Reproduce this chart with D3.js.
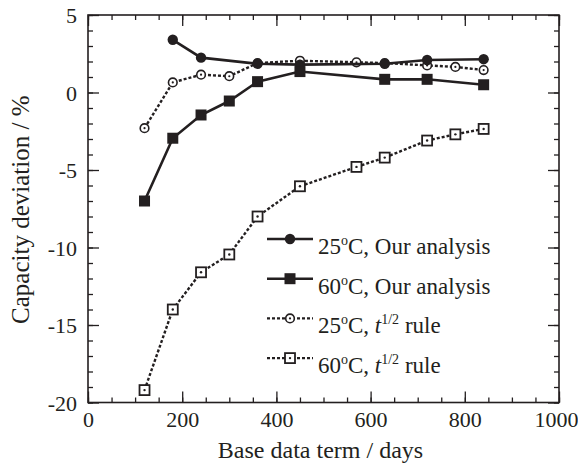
<!DOCTYPE html>
<html><head><meta charset="utf-8">
<script src="https://cdn.jsdelivr.net/npm/d3@7"></script>
<style>
body{margin:0;background:#fff}
text{font-family:"Liberation Serif","Times New Roman",serif;fill:#231f20}
</style>
</head><body>
<svg id="c" width="578" height="466"></svg>
<script>
// ---- data ----
const daysOur25 = [180, 240, 360, 450, 630, 720, 840];
const our25     = [3.4, 2.25, 1.85, 1.8, 1.85, 2.1, 2.15];
const daysOur60 = [120, 180, 240, 300, 360, 450, 630, 720, 840];
const our60     = [-7.0, -2.95, -1.45, -0.55, 0.7, 1.35, 0.85, 0.85, 0.5];
const daysRule  = [120, 180, 240, 300, 360, 450, 570, 630, 720, 780, 840];
const rule25    = [-2.3, 0.65, 1.15, 1.05, 1.9, 2.05, 1.95, 1.9, 1.75, 1.65, 1.45];
const rule60    = [-19.2, -14.0, -11.6, -10.45, -8.0, -6.05, -4.8, -4.2, -3.1, -2.7, -2.35];
const xTickLabels = [0, 200, 400, 600, 800, 1000];
const yTickLabels = [5, 0, -5, -10, -15, -20];

// ---- layout ----
const L = 88, R = 559, T = 15, B = 402.5;
const svg = d3.select("#c");
const x = d3.scaleLinear().domain([0, 1000]).range([L, R]);
const y = d3.scaleLinear().domain([-20, 5]).range([B, T]);
const ink = "#231f20";
const FF = '"Liberation Serif","Times New Roman",serif';

svg.append("rect").attr("width", 578).attr("height", 466).attr("fill", "#fff");

// axes with inward ticks
const major = 11, minor = 5;
function axisSet(axisFn, scale, majorVals, minorVals, transform, showLabels) {
  const gMin = svg.append("g").attr("transform", transform)
    .call(axisFn(scale).tickValues(minorVals).tickSize(-minor).tickFormat(""));
  const gMaj = svg.append("g").attr("transform", transform)
    .call(axisFn(scale).tickValues(majorVals).tickSize(-major)
      .tickFormat(showLabels ? (d => String(d)) : ""));
  [gMin, gMaj].forEach(g => {
    g.attr("font-family", FF);
    g.select(".domain").remove();
    g.selectAll(".tick line").attr("stroke", ink).attr("stroke-width", 1.3);
  });
  return gMaj;
}
const xMinor = d3.range(0, 1001, 50);
const yMinor = d3.range(-20, 5.01, 1);
const gx = axisSet(d3.axisBottom, x, xTickLabels, xMinor, `translate(0,${B})`, true);
gx.selectAll(".tick text").attr("font-size", 22).attr("fill", ink)
  .attr("y", 24.5).attr("dy", 0)
  .attr("text-anchor", d => d === 1000 ? "end" : "middle")
  .attr("dx", d => d === 1000 ? 19 : 0);
axisSet(d3.axisTop, x, xTickLabels, xMinor, `translate(0,${T})`, false);
const gy = axisSet(d3.axisLeft, y, yTickLabels, yMinor, `translate(${L},0)`, true);
gy.selectAll(".tick text").attr("font-size", 22).attr("fill", ink)
  .attr("x", -11).attr("dy", "0.35em");
axisSet(d3.axisRight, y, yTickLabels, yMinor, `translate(${R},0)`, false);

// frame
svg.append("rect").attr("x", L).attr("y", T).attr("width", R - L).attr("height", B - T)
  .attr("fill", "none").attr("stroke", ink).attr("stroke-width", 1.6);

// axis titles
svg.append("text").attr("x", (L + R) / 2 - 3).attr("y", 458).attr("text-anchor", "middle")
  .attr("font-size", 24).text("Base data term / days");
svg.append("text").attr("transform", `translate(29,${(T + B) / 2 + 1}) rotate(-90)`)
  .attr("text-anchor", "middle").attr("font-size", 25).text("Capacity deviation / %");

// series
const line = d3.line().x(d => x(d[0])).y(d => y(d[1]));
function series(days, vals, dashed) {
  const pts = days.map((d, i) => [d, vals[i]]);
  svg.append("path").datum(pts).attr("d", line).attr("fill", "none")
    .attr("stroke", ink).attr("stroke-width", dashed ? 2.4 : 2.6)
    .attr("stroke-dasharray", dashed ? "3,2" : null);
  return pts;
}
function drawMarker(g, type, cx, cy) {
  if (type === "fc") g.append("circle").attr("cx", cx).attr("cy", cy).attr("r", 5.2).attr("fill", ink);
  if (type === "fs") g.append("rect").attr("x", cx - 5.5).attr("y", cy - 5.5).attr("width", 11).attr("height", 11).attr("fill", ink);
  if (type === "oc") {
    g.append("circle").attr("cx", cx).attr("cy", cy).attr("r", 4.3).attr("fill", "#fff").attr("stroke", ink).attr("stroke-width", 1.6);
    g.append("circle").attr("cx", cx).attr("cy", cy).attr("r", 1.1).attr("fill", ink);
  }
  if (type === "os") {
    g.append("rect").attr("x", cx - 5).attr("y", cy - 5).attr("width", 10).attr("height", 10).attr("fill", "#fff").attr("stroke", ink).attr("stroke-width", 1.8);
    g.append("circle").attr("cx", cx).attr("cy", cy).attr("r", 1.2).attr("fill", ink);
  }
}
const sRule25 = series(daysRule, rule25, true);
const sRule60 = series(daysRule, rule60, true);
const gm1 = svg.append("g");
sRule25.forEach(p => drawMarker(gm1, "oc", x(p[0]), y(p[1])));
sRule60.forEach(p => drawMarker(gm1, "os", x(p[0]), y(p[1])));
const s25 = series(daysOur25, our25, false);
const s60 = series(daysOur60, our60, false);
const gm2 = svg.append("g");
s25.forEach(p => drawMarker(gm2, "fc", x(p[0]), y(p[1])));
s60.forEach(p => drawMarker(gm2, "fs", x(p[0]), y(p[1])));

// legend
const legend = [
  {type: "fc", dashed: false, label: "25", rest: ", Our analysis", rule: false},
  {type: "fs", dashed: false, label: "60", rest: ", Our analysis", rule: false},
  {type: "oc", dashed: true, label: "25", rest: ", ", rule: true},
  {type: "os", dashed: true, label: "60", rest: ", ", rule: true}
];
const lg = svg.append("g");
legend.forEach((it, i) => {
  const ly = 239 + i * 39.7;
  lg.append("line").attr("x1", 267).attr("x2", 313).attr("y1", ly).attr("y2", ly)
    .attr("stroke", ink).attr("stroke-width", it.dashed ? 2.2 : 2.6)
    .attr("stroke-dasharray", it.dashed ? "3,2" : null);
  drawMarker(lg, it.type, 290, ly);
  const t = lg.append("text").attr("x", 318).attr("y", ly + 15).attr("font-size", 23);
  t.append("tspan").text(it.label);
  t.append("tspan").attr("font-size", 14).attr("dy", -9).text("o");
  t.append("tspan").attr("dy", 9).text("C" + it.rest);
  if (it.rule) {
    t.append("tspan").attr("font-style", "italic").text("t");
    t.append("tspan").attr("font-size", 14).attr("dy", -9).text("1/2");
    t.append("tspan").attr("dy", 9).text(" rule");
  }
});
</script>
</body></html>
